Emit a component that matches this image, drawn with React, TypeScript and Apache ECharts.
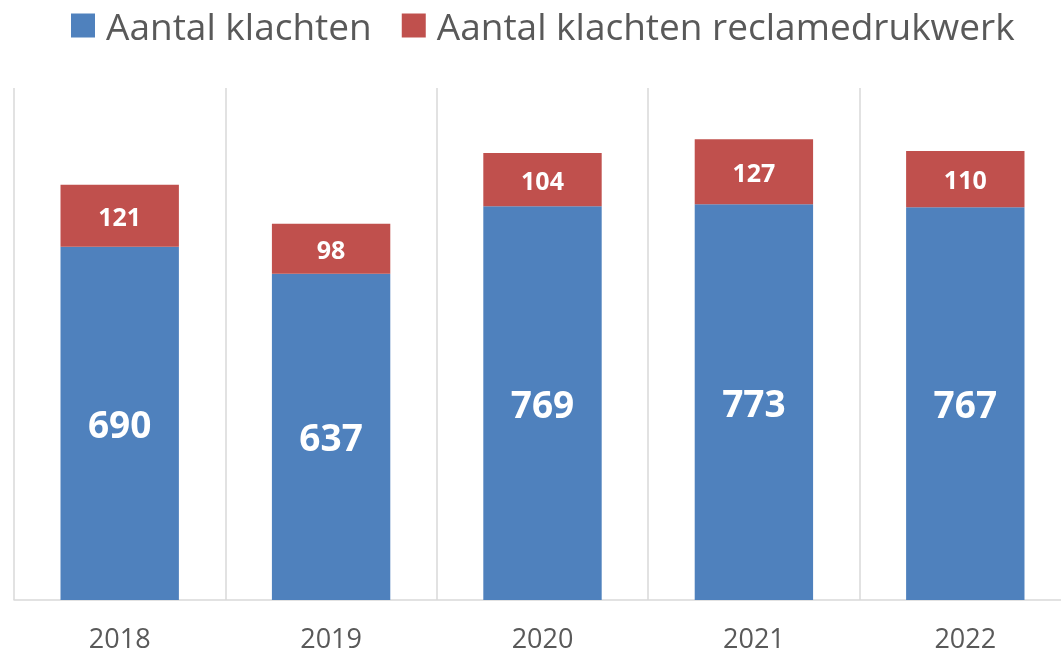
import React, { useEffect, useRef } from "react";
import * as echarts from "echarts";

const categories = ["2018", "2019", "2020", "2021", "2022"];
const klachten = [690, 637, 769, 773, 767];
const reclame = [121, 98, 104, 127, 110];
const seriesNames = ["Aantal klachten", "Aantal klachten reclamedrukwerk"];

export default function App() {
  const ref = useRef<HTMLDivElement>(null);
  useEffect(() => {
    document.body.style.margin = "0";
    document.body.style.overflow = "hidden";
    const chart = echarts.init(ref.current!, null, { renderer: "svg" });
    const font = "'Open Sans', 'Noto Sans', sans-serif";
    chart.setOption({
      animation: false,
      textStyle: { fontFamily: font },
      legend: {
        top: 7,
        left: 71,
        padding: 0,
        itemWidth: 24,
        itemHeight: 24,
        itemGap: 30,
        icon: "rect",
        textStyle: { fontSize: 37, color: "#595959", fontFamily: font, padding: [0, 0, 0, 6] },
        data: seriesNames,
      },
      grid: { left: 14, right: 0, top: 88, bottom: 54, containLabel: false },
      xAxis: {
        type: "category",
        data: categories,
        boundaryGap: true,
        axisTick: { show: false },
        axisLine: { lineStyle: { color: "#d9d9d9", width: 1.5 } },
        splitLine: { show: true, lineStyle: { color: "#d9d9d9", width: 1.5 } },
        axisLabel: { fontSize: 27, lineHeight: 28, color: "#595959", margin: 23, fontFamily: font },
      },
      yAxis: {
        type: "value",
        min: 0,
        max: 1000,
        show: false,
        splitLine: { show: false },
      },
      series: [
        {
          name: seriesNames[0],
          type: "bar",
          stack: "total",
          data: klachten,
          barWidth: "56%",
          itemStyle: { color: "#4F81BD" },
          label: {
            show: true,
            position: "inside",
            color: "#ffffff",
            fontWeight: "bold",
            fontSize: 37,
            fontFamily: font,
          },
        },
        {
          name: seriesNames[1],
          type: "bar",
          stack: "total",
          data: reclame,
          barWidth: "56%",
          itemStyle: { color: "#C0504D" },
          label: {
            show: true,
            position: "inside",
            color: "#ffffff",
            fontWeight: "bold",
            fontSize: 25,
            fontFamily: font,
          },
        },
      ],
    });
    return () => chart.dispose();
  }, []);
  return <div ref={ref} style={{ position: "fixed", left: 0, top: 0, width: 1071, height: 654 }} />;
}
